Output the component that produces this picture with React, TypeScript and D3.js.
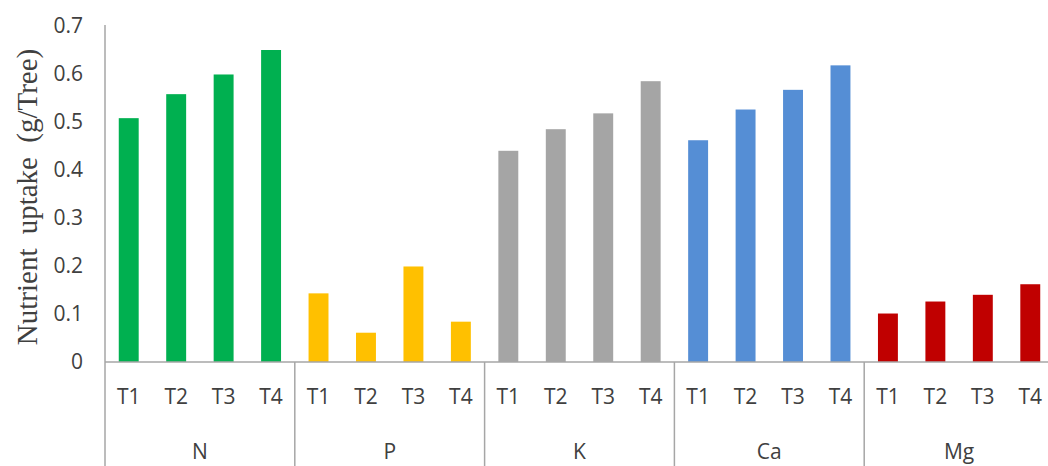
import React from "react";
import * as d3 from "d3";

const nutrients = ["N", "P", "K", "Ca", "Mg"];
const treatments = ["T1", "T2", "T3", "T4"];
const valuesN = [0.508, 0.558, 0.599, 0.65];
const valuesP = [0.143, 0.061, 0.199, 0.084];
const valuesK = [0.44, 0.485, 0.518, 0.585];
const valuesCa = [0.462, 0.526, 0.567, 0.618];
const valuesMg = [0.101, 0.126, 0.14, 0.162];
const colors = ["#00B050", "#FFC000", "#A5A5A5", "#558ED5", "#C00000"];
const yTicks = [0, 0.1, 0.2, 0.3, 0.4, 0.5, 0.6, 0.7];
const yTitle = "Nutrient uptake (g/Tree)";

const W = 1048;
const H = 466;

export default function App() {
  const series = [valuesN, valuesP, valuesK, valuesCa, valuesMg];
  const left = 105;
  const right = 1054;
  const top = 26;
  const base = 362;
  const y = d3.scaleLinear().domain([0, 0.7]).range([base, top]);
  const xg = d3.scaleBand().domain(nutrients).range([left, right]).padding(0);
  const xi = d3.scaleBand().domain(treatments).range([0, xg.bandwidth()]).paddingInner(0.58).paddingOuter(0.29);
  const axisColor = "#a6a6a6";
  const sans = "'Open Sans', sans-serif";
  const textColor = "#404040";
  return (
    <svg width={W} height={H} style={{ position: "absolute", left: 0, top: 0, background: "#fff" }}>
      {series.map((vals, gi) =>
        vals.map((v, ti) => (
          <rect
            key={`${gi}-${ti}`}
            x={(xg(nutrients[gi]) as number) + (xi(treatments[ti]) as number)}
            y={y(v)}
            width={xi.bandwidth()}
            height={base - y(v)}
            fill={colors[gi]}
          />
        ))
      )}
      <line x1={left} x2={left} y1={top - 1} y2={H} stroke={axisColor} strokeWidth={1.5} />
      <line x1={left} x2={right} y1={base} y2={base} stroke={axisColor} strokeWidth={1.5} />
      {nutrients.slice(1).map((n) => (
        <line key={n} x1={xg(n)} x2={xg(n)} y1={base} y2={H} stroke={axisColor} strokeWidth={1.5} />
      ))}
      {yTicks.map((t) => (
        <text key={t} x={83} y={y(t)} dy="0.35em" textAnchor="end" fontFamily={sans} fontSize={21} fill={textColor}>
          {String(t)}
        </text>
      ))}
      {nutrients.map((n) =>
        treatments.map((t) => (
          <text
            key={n + t}
            x={(xg(n) as number) + (xi(t) as number) + xi.bandwidth() / 2}
            y={397}
            dy="0.35em"
            textAnchor="middle"
            fontFamily={sans}
            fontSize={21}
            fill={textColor}
          >
            {t}
          </text>
        ))
      )}
      {nutrients.map((n) => (
        <text
          key={"g" + n}
          x={(xg(n) as number) + xg.bandwidth() / 2}
          y={452}
          dy="0.35em"
          textAnchor="middle"
          fontFamily={sans}
          fontSize={21}
          fill={textColor}
        >
          {n}
        </text>
      ))}
      <text
        transform={`translate(27,${(top + base) / 2 + 3}) rotate(-90)`}
        textAnchor="middle"
        dy="0.35em"
        fontFamily="'Liberation Serif', 'Times New Roman', serif"
        fontSize={29}
        wordSpacing={7}
        fill={textColor}
      >
        {yTitle}
      </text>
    </svg>
  );
}
